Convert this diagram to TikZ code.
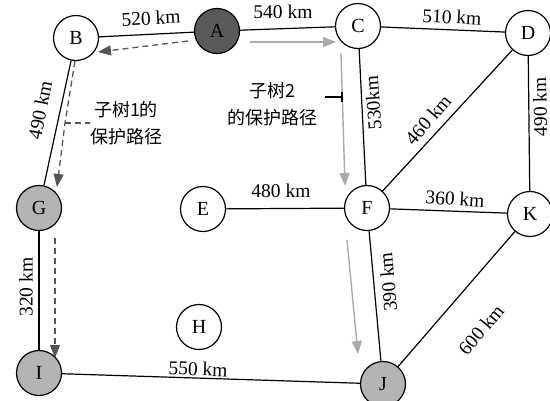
\documentclass[tikz,border=0pt]{standalone}
\usepackage{fontspec}
\setmainfont{Liberation Serif}
\newfontfamily\cjk{Noto Sans CJK SC}
\usetikzlibrary{arrows.meta}
\definecolor{darkfill}{HTML}{5A5A5A}
\definecolor{lightfill}{HTML}{B4B4B4}
\definecolor{dasharrow}{HTML}{555555}
\definecolor{grayarrow}{HTML}{AAAAAA}
\tikzset{
  vtx/.style={circle,draw=black,line width=1.2pt,minimum size=45pt,inner sep=0pt,fill=white,font=\fontsize{20}{20}\selectfont},
  darkvtx/.style={vtx,fill=darkfill},
  lightvtx/.style={vtx,fill=lightfill},
  link/.style={line width=1.2pt,black},
  lbl/.style={font=\fontsize{19.5}{19.5}\selectfont,inner sep=0pt},
  cjklbl/.style={font=\cjk\fontsize{18}{27}\selectfont,align=center,inner sep=0pt},
  protarrow/.style={dasharrow,line width=1.3pt,dash pattern=on 6pt off 4pt,-{Triangle[length=13pt,width=10pt]}},
  grayarr/.style={grayarrow,line width=1.4pt,-{Triangle[length=13pt,width=10pt]}},
}
\begin{document}
\begin{tikzpicture}[x=1pt,y=-1pt]
\useasboundingbox (0,0) rectangle (550,400);
% nodes
\node[darkvtx] (A) at (217,31) {A};
\node[vtx] (B) at (76,38) {B};
\node[vtx] (C) at (358,26) {C};
\node[vtx] (D) at (528,33) {D};
\node[vtx] (E) at (203,209) {E};
\node[vtx] (F) at (367,208) {F};
\node[lightvtx] (G) at (39,208) {G};
\node[vtx] (H) at (199,327) {H};
\node[lightvtx] (I) at (39,373) {I};
\node[lightvtx] (J) at (383,384) {J};
\node[vtx] (K) at (530,214) {K};
% links
\draw[link] (A) -- (B);
\draw[link] (A) -- (C);
\draw[link] (C) -- (D);
\draw[link] (C) -- (F);
\draw[link] (D) -- (F);
\draw[link] (D) -- (K);
\draw[link] (B) -- (G);
\draw[link] (G) -- (I);
\draw[link] (I) -- (J);
\draw[link] (E) -- (F);
\draw[link] (F) -- (K);
\draw[link] (F) -- (J);
\draw[link] (K) -- (J);
% link labels
\node[lbl,rotate=3] (l520) at (151,18) {520 km};
\node[lbl] (l540) at (283,12) {540 km};
\node[lbl,rotate=-3] (l510) at (452,17) {510 km};
\node[lbl,rotate=94] (l530) at (373,103) {530km};
\node[lbl,rotate=49] (l460) at (428,120) {460 km};
\node[lbl,rotate=91] (l490r) at (540,107) {490 km};
\node[lbl,rotate=79] (l490l) at (40,110) {490 km};
\node[lbl] (l480) at (281,191) {480 km};
\node[lbl,rotate=-4] (l360) at (455,199) {360 km};
\node[lbl,rotate=90] (l320) at (26,287) {320 km};
\node[lbl,rotate=-2] (l550) at (198,369) {550 km};
\node[lbl,rotate=95] (l390) at (388,282) {390 km};
\node[lbl,rotate=50] (l600) at (481,330) {600 km};
% protection path of subtree 1
\coordinate (p1) at (188,41);
\coordinate (p2) at (98,52);
\draw[protarrow] (p1) -- (p2);
\coordinate (p3) at (75,61);
\coordinate (p4) at (65,123);
\coordinate (p5) at (57,187);
\draw[protarrow] (p3) -- (p4) -- (p5);
\node[cjklbl] (t1) at (126,123) {子树1的\\保护路径};
\draw[dasharrow,line width=1.2pt,dash pattern=on 6pt off 4pt] (p4) -- (t1.west);
\coordinate (p6) at (55,238);
\coordinate (p7) at (55,358);
\draw[protarrow] (p6) -- (p7);
% protection path of subtree 2
\coordinate (q1) at (250,42);
\coordinate (q2) at (336,42);
\draw[grayarr] (q1) -- (q2);
\coordinate (q3) at (341,53);
\coordinate (q4) at (345,186);
\draw[grayarr] (q3) -- (q4);
\coordinate (q5) at (347,240);
\coordinate (q6) at (358,354);
\draw[grayarr] (q5) -- (q6);
\node[cjklbl] (t2) at (272,104) {子树2\\的保护路径};
\coordinate (m1) at (325,97);
\coordinate (m2) at (342,97);
\draw[black,line width=1.1pt] (m1) -- (m2);
\draw[black,line width=1.1pt] ([yshift=-5pt]m2) -- ([yshift=5pt]m2);
\end{tikzpicture}
\end{document}
